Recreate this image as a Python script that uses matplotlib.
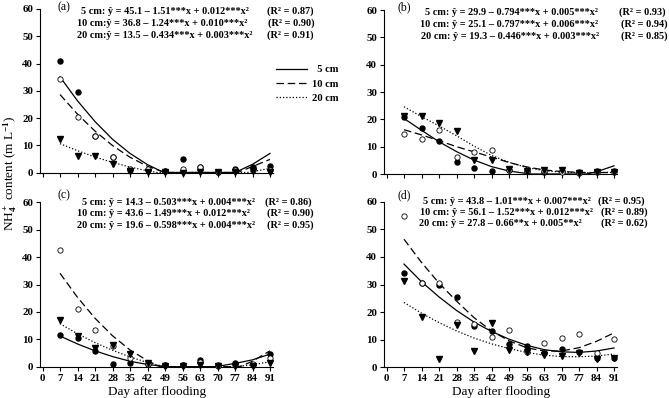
import matplotlib
matplotlib.use('Agg')
import matplotlib.pyplot as plt
from matplotlib.lines import Line2D

plt.rcParams['font.family'] = ['Liberation Serif', 'DejaVu Serif']
plt.rcParams['font.weight'] = 'bold'
plt.rcParams['mathtext.fontset'] = 'custom'
plt.rcParams['mathtext.rm'] = 'Liberation Serif'
plt.rcParams['mathtext.bf'] = 'Liberation Serif:bold'
plt.rcParams['mathtext.it'] = 'Liberation Serif:italic'

# days after flooding
days = [7, 14, 21, 28, 35, 42, 49, 56, 63, 70, 77, 84, 91]

# (a) measured points
a_5cm = [40.9, 29.5, 13.4, 5.7, 0.8, 0.8, 0.7, 5.0, 2.1, 0.3, 1.3, 1.9, 2.4]
a_10cm = [34.3, 20.2, 13.4, 5.7, 1.4, 1.2, 0.5, 1.2, 2.1, 0.3, 0.9, 0.9, 0.9]
a_20cm = [12.4, 6.2, 6.0, 3.2, 0.5, 0.2, 0.2, 0.0, 0.3, 0.2, 0.3, 0.5, 0.3]
# (a) fitted curves
a_fit5_x = [7, 14, 21, 28, 35, 42, 48.5, 77, 84, 91]
a_fit5_y = [35.1, 26.3, 18.7, 12.2, 7.0, 2.9, 0, 0, 3.0, 7.0]
a_fit10_x = [7, 14, 21, 28, 35, 42, 49, 78, 84, 91]
a_fit10_y = [28.6, 21.4, 15.2, 9.9, 5.6, 2.3, 0, 0, 2.2, 4.8]
a_fit20_x = [7, 14, 21, 28, 35, 42, 46, 82, 91]
a_fit20_y = [10.6, 8.0, 5.7, 3.7, 2.0, 0.6, 0, 0, 1.5]

# (b)
b_5cm = [20.9, 16.8, 12.0, 4.4, 2.3, 1.2, 1.3, 1.1, 0.9, 1.2, 0.7, 1.0, 1.1]
b_10cm = [14.6, 12.7, 16.1, 6.1, 8.2, 8.8, 1.5, 1.0, 1.0, 0.8, 0.5, 0.8, 0.8]
b_20cm = [21.3, 21.3, 18.7, 15.7, 5.1, 5.1, 1.9, 1.1, 1.3, 1.3, 0.5, 0.7, 0.7]
b_fit5_x = [7, 14, 21, 28, 35, 42, 49, 56, 58, 80, 84, 91]
b_fit5_y = [20.3, 16.0, 11.8, 8.2, 5.1, 2.7, 1.1, 0.2, 0, 0, 0.8, 3.0]
b_fit10_x = days
b_fit10_y = [16.2, 14.3, 12.2, 10.0, 8.1, 6.2, 4.2, 2.6, 1.5, 0.9, 0.6, 0.5, 0.6]
b_fit20_x = days
b_fit20_y = [24.6, 21.0, 17.6, 14.0, 10.2, 6.8, 4.3, 2.4, 1.2, 0.7, 0.5, 0.5, 0.6]

# (c)
c_5cm = [11.6, 10.3, 5.7, 1.0, 1.3, 0.9, 0.5, 0.5, 2.5, 0.6, 1.2, 0.5, 4.6]
c_10cm = [42.6, 21.2, 13.4, 7.5, 3.3, 1.0, 0.6, 0.5, 1.6, 0.4, 0.7, 0.9, 3.2]
c_20cm = [17.0, 11.3, 7.0, 7.8, 4.6, 1.4, 0.3, 0.2, 0.5, 0.2, 0.3, 0.2, 1.3]
c_fit5_x = [7, 14, 21, 28, 35, 42, 50, 69, 77, 84, 91]
c_fit5_y = [11.2, 8.3, 5.8, 3.7, 2.0, 0.8, 0, 0, 1.2, 2.5, 4.6]
c_fit10_x = [7, 14, 21, 28, 35, 42, 47, 79, 84, 91]
c_fit10_y = [34.1, 25.3, 17.7, 11.3, 6.1, 2.2, 0, 0, 2.0, 5.8]
c_fit20_x = [7, 14, 21, 28, 35, 42, 49, 77, 84, 91]
c_fit20_y = [15.7, 12.0, 8.8, 6.0, 3.6, 1.5, 0, 0, 0.7, 1.8]

# (d)
d_5cm = [34.0, 30.7, 29.7, 25.3, 14.9, 13.3, 8.4, 7.7, 5.3, 6.5, 5.4, 3.3, 3.5]
d_10cm = [54.8, 30.7, 30.7, 16.3, 15.8, 11.0, 13.5, 5.4, 8.7, 10.7, 12.1, 5.3, 10.1]
d_20cm = [31.2, 18.1, 3.1, 15.3, 5.8, 15.9, 6.3, 5.4, 4.5, 4.1, 5.3, 3.1, 3.5]
d_fit5_x = days
d_fit5_y = [37.4, 31.0, 25.5, 20.6, 16.4, 13.0, 10.2, 8.0, 6.4, 5.6, 5.4, 5.9, 7.0]
d_fit10_x = days
d_fit10_y = [46.4, 38.0, 30.5, 24.0, 18.0, 13.2, 9.6, 7.1, 5.9, 5.9, 7.1, 9.4, 12.5]
d_fit20_x = days
d_fit20_y = [23.5, 19.6, 16.2, 13.2, 10.6, 8.5, 6.8, 5.4, 4.4, 3.9, 3.8, 4.1, 4.8]

a_eq = ['5 cm: ŷ = 45.1 – 1.51***x + 0.012***x²',
        '10 cm:ŷ = 36.8 – 1.24***x + 0.010***x²',
        '20 cm:ŷ = 13.5 – 0.434***x + 0.003***x²']
a_r2 = ['0.87', '0.90', '0.91']
b_eq = ['5 cm: ŷ = 29.9 – 0.794***x + 0.005***x²',
        '10 cm: ŷ = 25.1 – 0.797***x + 0.006***x²',
        '20 cm: ŷ = 19.3 – 0.446***x + 0.003***x²']
b_r2 = ['0.93', '0.94', '0.85']
c_eq = ['5 cm: ŷ = 14.3 – 0.503***x + 0.004***x²',
        '10 cm: ŷ = 43.6 – 1.49***x + 0.012***x²',
        '20 cm: ŷ = 19.6 – 0.598***x + 0.004***x²']
c_r2 = ['0.86', '0.90', '0.95']
d_eq = ['5 cm: ŷ = 43.8 – 1.01***x + 0.007***x²',
        '10 cm: ŷ = 56.1 – 1.52***x + 0.012***x²',
        '20 cm: ŷ = 27.8 – 0.66**x + 0.005**x²']
d_r2 = ['0.95', '0.89', '0.62']

W, H = 669, 398
EQ_SIZE = 7.4


def rect(l, t, r, b):
    return [l / W, 1 - b / H, (r - l) / W, (b - t) / H]


fig = plt.figure(figsize=(W / 100, H / 100), dpi=100)

panels = [
    dict(box=(40, 9, 272.5, 172.5), pts=(a_5cm, a_10cm, a_20cm),
         fits=((a_fit5_x, a_fit5_y), (a_fit10_x, a_fit10_y), (a_fit20_x, a_fit20_y)),
         eq=a_eq, r2=a_r2, eqx=[81, 77, 77], r2x=[267, 268, 267], eqy=[14, 26, 38],
         tag='(a)', tagxy=(57, 7), bottom=False),
    dict(box=(384, 10, 616.5, 174), pts=(b_5cm, b_10cm, b_20cm),
         fits=((b_fit5_x, b_fit5_y), (b_fit10_x, b_fit10_y), (b_fit20_x, b_fit20_y)),
         eq=b_eq, r2=b_r2, eqx=[425, 420, 421], r2x=[619, 621, 621], eqy=[15, 27, 39],
         tag='(b)', tagxy=(397, 7), bottom=False),
    dict(box=(40, 202.3, 272.5, 366.7), pts=(c_5cm, c_10cm, c_20cm),
         fits=((c_fit5_x, c_fit5_y), (c_fit10_x, c_fit10_y), (c_fit20_x, c_fit20_y)),
         eq=c_eq, r2=c_r2, eqx=[82, 77, 77], r2x=[265, 267, 267], eqy=[205, 216, 228],
         tag='(c)', tagxy=(57, 195), bottom=True),
    dict(box=(384, 201.7, 616.5, 367.3), pts=(d_5cm, d_10cm, d_20cm),
         fits=((d_fit5_x, d_fit5_y), (d_fit10_x, d_fit10_y), (d_fit20_x, d_fit20_y)),
         eq=d_eq, r2=d_r2, eqx=[423, 420, 419], r2x=[598, 601, 601], eqy=[204, 215, 226],
         tag='(d)', tagxy=(397, 195), bottom=True),
]

styles = ['-', (0, (6, 3)), (0, (1, 1.6))]
axes = []
for p in panels:
    ax = fig.add_axes(rect(*p['box']))
    axes.append(ax)
    for (fx, fy), ls in zip(p['fits'], styles):
        ax.plot(fx, fy, color='black', lw=0.9, ls=ls, clip_on=False, zorder=2)
    s5, s10, s20 = p['pts']
    ax.plot(days, s5, 'o', ms=3.6, color='black', clip_on=False, zorder=3)
    ax.plot(days, s10, 'o', ms=3.8, mfc='white', mec='black', mew=0.6, clip_on=False, zorder=4)
    ax.plot(days, s20, 'v', ms=4.2, color='black', clip_on=False, zorder=5)

    ax.set_xlim(-1, 92)
    ax.set_ylim(0, 60)
    ax.set_xticks([0] + days)
    ax.set_yticks(range(0, 61, 10))
    for side in ['top', 'right']:
        ax.spines[side].set_visible(False)
    for side in ['left', 'bottom']:
        ax.spines[side].set_linewidth(0.8)
    ax.tick_params(direction='out', length=3, width=0.8, labelsize=7.8, pad=2,
                   labelbottom=p['bottom'])
    for lbl in ax.get_xticklabels() + ax.get_yticklabels():
        lbl.set_fontweight('bold')

    for i in range(3):
        fig.text(p['eqx'][i] / W, 1 - p['eqy'][i] / H, p['eq'][i], fontsize=EQ_SIZE,
                 fontweight='bold', ha='left', va='baseline')
        fig.text(p['r2x'][i] / W, 1 - p['eqy'][i] / H,
                 '(R² = ' + p['r2'][i] + ')', fontsize=EQ_SIZE,
                 fontweight='bold', ha='left', va='baseline')
    fig.text(p['tagxy'][0] / W, 1 - p['tagxy'][1] / H, p['tag'], fontsize=8.5,
             fontweight='normal', ha='left', va='center')

handles = [Line2D([], [], color='black', lw=0.9, ls=ls) for ls in styles]
axes[0].legend(handles, ['\u20025 cm', '10 cm', '20 cm'], loc='upper left',
               bbox_to_anchor=(276 / W, 1 - 65 / H), bbox_transform=fig.transFigure,
               frameon=False, borderpad=0, borderaxespad=0, handlelength=2.9,
               handletextpad=0.5, labelspacing=0.45,
               prop=dict(weight='bold', size=7.6))

fig.text(10 / W, 1 - 173 / H, 'NH$_4^+$ content (m L$^{-1}$)', rotation=90,
         ha='center', va='center', fontsize=9.5, fontweight='normal')
fig.text(157 / W, 0.0, 'Day after flooding', ha='center', va='bottom',
         fontsize=9.5, fontweight='normal')
fig.text(501 / W, 0.0, 'Day after flooding', ha='center', va='bottom',
         fontsize=9.5, fontweight='normal')

fig.savefig('out.png', dpi=100)
